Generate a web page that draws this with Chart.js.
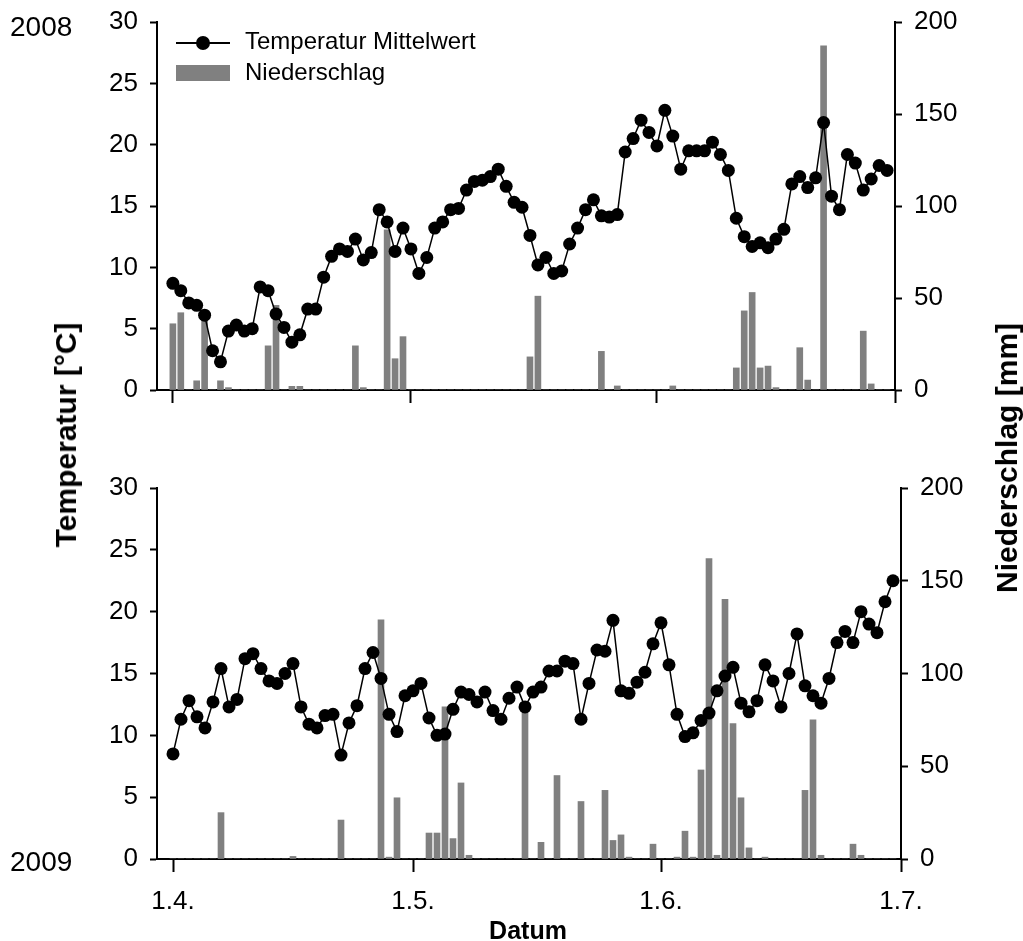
<!DOCTYPE html>
<html>
<head>
<meta charset="utf-8">
<script src="https://cdn.jsdelivr.net/npm/chart.js@4.4.0/dist/chart.umd.min.js"></script>
<style>
  body { margin: 0; background: #fff; width: 1023px; height: 941px; position: relative; overflow: hidden;
         font-family: 'Liberation Sans', Arial, sans-serif; color: #000; }
  canvas { position: absolute; left: 0; }
  #chart2008 { top: 0; }
  #chart2009 { top: 440px; }
  .year { position: absolute; left: 10px; font-size: 28px; line-height: 28px; }
  .title { position: absolute; font-weight: bold; white-space: nowrap; transform: translate(-50%, -50%) rotate(-90deg); font-size: 30px; }
  .legend-text { position: absolute; left: 245px; font-size: 24px; line-height: 24px; white-space: nowrap; }
</style>
</head>
<body>
<canvas id="chart2008" width="1023" height="440"></canvas>
<canvas id="chart2009" width="1023" height="501"></canvas>

<div class="year" style="top:13px">2008</div>
<div class="year" style="top:848px">2009</div>

<div class="title" style="left:66px; top:435px">Temperatur [°C]</div>
<div class="title" style="left:1007px; top:458px">Niederschlag [mm]</div>
<div style="position:absolute; left:528px; top:930px; transform:translate(-50%,-50%); font-weight:bold; font-size:25px;">Datum</div>

<!-- legend -->
<div style="position:absolute; left:176px; top:42px; width:54px; height:2px; background:#000"></div>
<div style="position:absolute; left:196px; top:36px; width:14px; height:14px; border-radius:50%; background:#000"></div>
<div class="legend-text" style="top:29px">Temperatur Mittelwert</div>
<div style="position:absolute; left:176px; top:65px; width:54px; height:16px; background:#808080"></div>
<div class="legend-text" style="top:60px">Niederschlag</div>

<script>
// days since 1 April (0 = 1.4.)
const tickDays   = [0, 30, 61, 91];
const tickLabels = ['1.4.', '1.5.', '1.6.', '1.7.'];

// daily mean temperature [°C], 1.4. - 30.6.
const temp2008 = [
  8.7, 8.1, 7.1, 6.9, 6.1, 3.2, 2.3, 4.8, 5.3, 4.8,
  5.0, 8.4, 8.1, 6.2, 5.1, 3.9, 4.5, 6.6, 6.6, 9.2,
  10.9, 11.5, 11.3, 12.3, 10.6, 11.2, 14.7, 13.7, 11.3, 13.2,
  11.5, 9.5, 10.8, 13.2, 13.7, 14.7, 14.8, 16.3, 17.0, 17.1,
  17.4, 18.0, 16.6, 15.3, 14.9, 12.6, 10.2, 10.8, 9.5, 9.7,
  11.9, 13.2, 14.7, 15.5, 14.2, 14.1, 14.3, 19.4, 20.5, 22.0,
  21.0, 19.9, 22.8, 20.7, 18.0, 19.5, 19.5, 19.5, 20.2, 19.2,
  17.9, 14.0, 12.5, 11.7, 12.0, 11.6, 12.3, 13.1, 16.8, 17.4,
  16.5, 17.3, 21.8, 15.8, 14.7, 19.2, 18.5, 16.3, 17.2, 18.3,
  17.9
];
const temp2009 = [
  8.5, 11.3, 12.8, 11.5, 10.6, 12.7, 15.4, 12.3, 12.9, 16.2,
  16.6, 15.4, 14.4, 14.2, 15.0, 15.8, 12.3, 10.9, 10.6, 11.6,
  11.7, 8.4, 11.0, 12.4, 15.4, 16.7, 14.6, 11.7, 10.3, 13.2,
  13.6, 14.2, 11.4, 10.0, 10.1, 12.1, 13.5, 13.3, 12.7, 13.5,
  12.0, 11.3, 13.0, 13.9, 12.3, 13.5, 13.9, 15.2, 15.2, 16.0,
  15.8, 11.3, 14.2, 16.9, 16.8, 19.3, 13.6, 13.4, 14.3, 15.1,
  17.4, 19.1, 15.7, 11.7, 9.9, 10.2, 11.2, 11.8, 13.6, 14.8,
  15.5, 12.6, 11.9, 12.8, 15.7, 14.4, 12.3, 15.0, 18.2, 14.0,
  13.2, 12.6, 14.6, 17.5, 18.4, 17.5, 20.0, 19.0, 18.3, 20.8,
  22.5
];

// daily precipitation [mm]
const rain2008 = [
  36, 42, 0, 5, 39, 0, 5, 1.3, 0, 0,
  0, 0, 24, 46, 0, 2, 2, 0, 0, 0,
  0, 0, 0, 24, 1.3, 0, 0, 87, 17, 29,
  0, 0, 0, 0, 0, 0, 0, 0, 0, 0,
  0, 0, 0, 0, 0, 18, 51, 0, 0, 0,
  0, 0, 0, 0, 21, 0, 2.2, 0, 0, 0,
  0, 0, 0, 2.2, 0, 0, 0, 0, 0, 0,
  0, 12, 43, 53, 12, 13, 1.3, 0, 0, 23,
  5.4, 0, 187, 0, 0, 0, 0, 32, 3.3, 0,
  0
];
const rain2009 = [
  0, 0, 0, 0, 0, 0, 25, 0, 0, 0,
  0, 0, 0, 0, 0, 1.4, 0, 0, 0, 0,
  0, 21, 0, 0, 0, 0, 129, 1, 33, 0,
  0, 0, 14, 14, 82, 11, 41, 2, 0, 0,
  0, 0, 0, 0, 80, 0, 9, 0, 45, 0,
  0, 31, 0, 0, 37, 10, 13, 1, 0, 0,
  8, 0, 0, 1, 15, 1, 48, 162, 2, 140,
  73, 33, 6, 0, 1, 0, 0, 0, 0, 37,
  75, 2, 0, 0, 0, 8, 2, 0, 0, 0,
  0
];

Chart.defaults.font.family = "'Liberation Sans', Arial, sans-serif";
Chart.defaults.color = '#000';

function makePanel(canvasId, temps, rain, geo) {
  const ctx = document.getElementById(canvasId).getContext('2d');
  const fixWidth = w => s => { s.width = w; s.paddingTop = 0; s.paddingBottom = 0; };

  return new Chart(ctx, {
    type: 'bar',
    data: {
      datasets: [
        {
          type: 'line',
          label: 'Temperatur Mittelwert',
          data: temps.map((t, i) => ({ x: i, y: t })),
          yAxisID: 'y',
          borderColor: '#000',
          borderWidth: 1.5,
          pointRadius: 6.5,
          pointBackgroundColor: '#000',
          pointBorderWidth: 0,
          tension: 0,
          order: 0
        },
        {
          type: 'bar',
          label: 'Niederschlag',
          data: rain.map((r, i) => ({ x: i, y: r })),
          yAxisID: 'y1',
          backgroundColor: '#808080',
          barThickness: 6,
          order: 1
        }
      ]
    },
    options: {
      responsive: false,
      animation: false,
      layout: { padding: { top: geo.top, left: 0, right: 0, bottom: 0 } },
      plugins: { legend: { display: false }, tooltip: { enabled: false } },
      scales: {
        x: {
          type: 'linear',
          min: -2, max: 91,
          offset: false,
          afterBuildTicks: s => { s.ticks = tickDays.map(v => ({ value: v })); },
          afterFit: s => { s.height = geo.xHeight; s.paddingLeft = 0; s.paddingRight = 0; },
          ticks: {
            font: { size: 26 },
            padding: 14,
            maxRotation: 0,
            callback: v => geo.showLabels ? tickLabels[tickDays.indexOf(v)] : ''
          },
          grid: { offset: false, drawOnChartArea: false, drawTicks: true, tickLength: 13, tickWidth: 2, tickColor: '#000' },
          border: { display: true, color: '#000', width: 2 }
        },
        y: {
          position: 'left',
          min: 0, max: 30,
          afterFit: fixWidth(157),
          ticks: { stepSize: 5, font: { size: 26 }, padding: 12 },
          grid: { drawOnChartArea: false, tickLength: 7, tickWidth: 2, tickColor: '#000' },
          border: { display: true, color: '#000', width: 2 }
        },
        y1: {
          position: 'right',
          min: 0, max: 200,
          afterFit: fixWidth(geo.rightWidth),
          ticks: { stepSize: 50, font: { size: 26 }, padding: 12 },
          grid: { drawOnChartArea: false, tickLength: 7, tickWidth: 2, tickColor: '#000' },
          border: { display: true, color: '#000', width: 2 }
        }
      }
    }
  });
}

makePanel('chart2008', temp2008, rain2008, { top: 22, xHeight: 50, rightWidth: 128, showLabels: false });
makePanel('chart2009', temp2009, rain2009, { top: 48, xHeight: 82, rightWidth: 122, showLabels: true });
</script>
</body>
</html>
